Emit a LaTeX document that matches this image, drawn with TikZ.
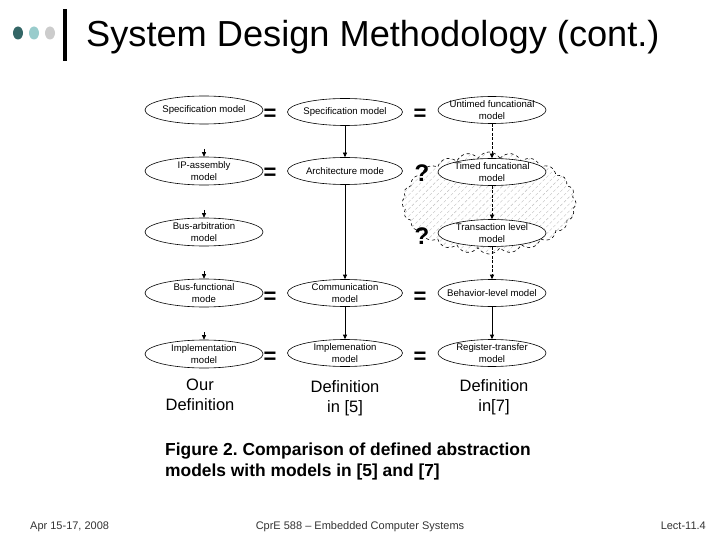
\documentclass[tikz,border=0pt]{standalone}
\usepackage{fontspec}
\setmainfont{Liberation Sans}
\usetikzlibrary{shapes.geometric,shapes.symbols,arrows.meta,patterns.meta}
\definecolor{dotA}{HTML}{336666}
\definecolor{dotB}{HTML}{99CCCC}
\definecolor{dotC}{HTML}{CCCCCC}
\frenchspacing
\begin{document}
\begin{tikzpicture}[x=1pt,y=-1pt,
  model/.style={ellipse, draw, line width=0.6pt, fill=white, inner xsep=-16pt, inner ysep=-6pt,
    align=center, font=\fontsize{9.6}{11.5}\selectfont},
  lcol/.style={model, minimum width=118pt, minimum height=28pt},
  mcol/.style={model, minimum width=115pt, minimum height=27pt},
  rcol/.style={model, minimum width=108pt, minimum height=27pt},
  arr/.style={line width=0.6pt, -{Triangle[length=4.5pt,width=4pt]}},
  darr/.style={arr, dash pattern=on 3pt off 1.5pt},
  eqsign/.style={font=\fontsize{22}{22}\selectfont\bfseries, inner sep=0pt},
  qmark/.style={font=\fontsize{24}{24}\selectfont\bfseries, inner sep=0pt},
  coltitle/.style={align=center, font=\fontsize{16.5}{20}\selectfont, inner sep=0pt},
  foot/.style={font=\fontsize{11}{13}\selectfont, text=black!80, inner sep=0pt, anchor=base}
]
\useasboundingbox (0,0) rectangle (720,540);

% header
\fill[dotA] (18,33) ellipse (5pt and 6.5pt);
\fill[dotB] (34,33) ellipse (5pt and 6.5pt);
\fill[dotC] (50,33) ellipse (5pt and 6.5pt);
\fill[black] (63,9) rectangle (67,61);
\node[anchor=base west, inner sep=0pt, font=\fontsize{36.2}{40}\selectfont] (title) at (86,47) {System Design Methodology (cont.)};

% cloud
\node[cloud, draw, dashed, line width=0.6pt, cloud puffs=24, cloud puff arc=120, aspect=1.66,
  minimum width=174pt, minimum height=102pt, inner sep=0pt,
  pattern={Lines[angle=45,distance=5pt,line width=0.4pt]}, pattern color=black!25] (cloud) at (489,203) {};

% left column
\node[lcol] (l1) at (204,110) {Specification model};
\node[lcol] (l2) at (204,171) {IP-assembly\\model};
\node[lcol] (l3) at (204,232) {Bus-arbitration\\model};
\node[lcol] (l4) at (204,293) {Bus-functional\\mode};
\node[lcol] (l5) at (204,354) {Implementation\\model};

% middle column
\node[mcol] (m1) at (345,112) {Specification model};
\node[mcol] (m2) at (345,171) {Architecture mode};
\node[mcol] (m4) at (345,293) {Communication\\model};
\node[mcol] (m5) at (345,353) {Implemenation\\model};

% right column
\node[rcol] (r1) at (492,110) {Untimed funcational\\model};
\node[rcol] (r2) at (492,172) {Timed funcational\\model};
\node[rcol] (r3) at (492,233) {Transaction level\\model};
\node[rcol] (r4) at (492,293) {Behavior-level model};
\node[rcol] (r5) at (492,353) {Register-transfer\\model};

% equals signs
\node[eqsign] (e11) at (270,115) {=};
\node[eqsign] (e12) at (270,174) {=};
\node[eqsign] (e14) at (270,298) {=};
\node[eqsign] (e15) at (270,358) {=};
\node[eqsign] (e21) at (420,115) {=};
\node[eqsign] (e24) at (420,298) {=};
\node[eqsign] (e25) at (420,358) {=};

% question marks
\node[qmark] (q1) at (422,173) {?};
\node[qmark] (q2) at (422,236) {?};

% left stub arrows
\coordinate (s2) at (204,149);
\coordinate (s3) at (204,210);
\coordinate (s4) at (204,271);
\coordinate (s5) at (204,332);
\draw[arr] (s2) -- (l2);
\draw[arr] (s3) -- (l3);
\draw[arr] (s4) -- (l4);
\draw[arr] (s5) -- (l5);

% middle arrows
\draw[arr] (m1) -- (m2);
\draw[arr] (m2) -- (m4);
\draw[arr] (m4) -- (m5);

% right arrows
\draw[darr] (r1) -- (r2);
\draw[darr] (r2) -- (r3);
\draw[darr] (r3) -- (r4);
\draw[arr] (r4) -- (r5);

% column titles
\node[coltitle] (t1) at (200,395) {Our\\Definition};
\node[coltitle] (t2) at (345,398) {Definition\\in [5]};
\node[coltitle] (t3) at (494,397) {Definition\\in[7]};

% caption
\node[anchor=north west, align=left, inner sep=0pt, font=\fontsize{17.4}{20.5}\selectfont\bfseries] (cap) at (165,443)
  {Figure 2. Comparison of defined abstraction\\models with models in [5] and [7]};

% footer
\node[foot, anchor=base west] (f1) at (30,529) {Apr 15-17, 2008};
\node[foot] (f2) at (360,529) {CprE 588 -- Embedded Computer Systems};
\node[foot, anchor=base east] (f3) at (706,529) {Lect-11.4};
\end{tikzpicture}
\end{document}
